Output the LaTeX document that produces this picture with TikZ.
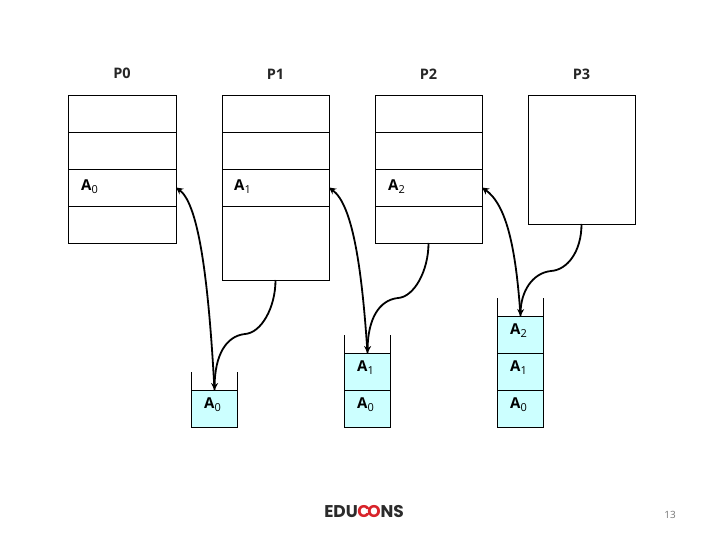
\documentclass[tikz,border=0pt]{standalone}
\usepackage{fontspec}
\setmainfont{Open Sans}
\newfontfamily\logofont{Poppins}
\definecolor{stackfill}{HTML}{CCFFFF}
\definecolor{logored}{HTML}{D8232A}
\definecolor{logodark}{HTML}{2B2B2B}
\usetikzlibrary{arrows.meta}
\tikzset{
 memcell/.style={draw=black,line width=0.8pt,fill=white,anchor=north west,inner sep=0pt,outer sep=0pt,minimum width=#1},
 stackcell/.style={draw=black,line width=0.8pt,fill=stackfill,inner sep=0pt,outer sep=0pt,minimum width=46pt,minimum height=37pt,font=\fontsize{15}{15}\selectfont},
 proclabel/.style={font=\fontsize{14.5}{15}\selectfont\bfseries,inner sep=0pt,text=black!85},
 addr/.style={font=\fontsize{15}{15}\selectfont,inner sep=0pt,anchor=base west},
 link/.style={line width=1.8pt,black},
 headed/.style={-{Stealth[length=7pt,width=7pt]}},
}
\newcommand{\Aa}[1]{{\bfseries A}\raisebox{-3pt}{\fontsize{11}{11}\selectfont #1}}
\newcommand{\Ss}[1]{\raisebox{0.3pt}[0pt][0pt]{\Aa{#1}}\kern4pt}
\begin{document}
\begin{tikzpicture}[x=1pt,y=-1pt]
\useasboundingbox (0,0) rectangle (720,540);
% process boxes
\foreach \n/\x/\w in {0/68/108,2/375/107}{
  \node[memcell=\w pt,minimum height=37pt] (p\n r1) at (\x,95) {};
  \node[memcell=\w pt,minimum height=37pt] (p\n r2) at (\x,132) {};
  \node[memcell=\w pt,minimum height=37pt] (p\n r3) at (\x,169) {};
  \node[memcell=\w pt,minimum height=37pt] (p\n r4) at (\x,206) {};
}
\node[memcell=107pt,minimum height=37pt] (p1r1) at (222,95) {};
\node[memcell=107pt,minimum height=37pt] (p1r2) at (222,132) {};
\node[memcell=107pt,minimum height=37pt] (p1r3) at (222,169) {};
\node[memcell=107pt,minimum height=74pt] (p1r4) at (222,206) {};
\node[memcell=107pt,minimum height=129pt] (p3r1) at (528,95) {};
% process titles
\node[proclabel] (t0) at (122,73.5) {P0};
\node[proclabel] (t1) at (275.5,74.5) {P1};
\node[proclabel] (t2) at (428.5,74.5) {P2};
\node[proclabel] (t3) at (581.5,74.5) {P3};
% addresses in memory
\node[addr] (a0) at (81,191) {\Aa{0}};
\node[addr] (a1) at (234,191) {\Aa{1}};
\node[addr] (a2) at (388,191) {\Aa{2}};
% stacks
\node[stackcell] (s0a) at (214.5,408.5) {\Ss{0}};
\node[stackcell] (s1a) at (367.5,408.5) {\Ss{0}};
\node[stackcell] (s1b) at (367.5,371.5) {\Ss{1}};
\node[stackcell] (s2a) at (520.5,408.5) {\Ss{0}};
\node[stackcell] (s2b) at (520.5,371.5) {\Ss{1}};
\node[stackcell] (s2c) at (520.5,334.5) {\Ss{2}};
% open stack walls
\foreach \s/\h in {s0a/18,s1b/18,s2c/18}{
  \draw[line width=0.8pt] (\s.north west) -- ++(0,-\h);
  \draw[line width=0.8pt] (\s.north east) -- ++(0,-\h);
}
% connectors
\coordinate (m0) at (245,334);
\coordinate (m1) at (398,298);
\coordinate (m2) at (551,271);
\draw[link,headed] (p1r4.south) .. controls (275.5,308) and (261,333) .. (m0) .. controls (226,336) and (215,355) .. (s0a.north);
\draw[link,headed] (s0a.north) .. controls (209,290) and (200,205) .. (p0r3.east);
\draw[link,headed] (p2r4.south) .. controls (428.5,271) and (414,297) .. (m1) .. controls (379,300) and (368,319) .. (s1b.north);
\draw[link,headed] (s1b.north) .. controls (362,270) and (353,205) .. (p1r3.east);
\draw[link,headed] (p3r1.south) .. controls (581.5,252) and (567,270) .. (m2) .. controls (532,273) and (521,292) .. (s2c.north);
\draw[link,headed] (s2c.north) .. controls (516,250) and (507,205) .. (p2r3.east);
% footer
\node[inner sep=0pt,text=logodark] (logo) at (364,511.5) {\logofont\bfseries\fontsize{17}{17}\selectfont EDU\kern-0.3pt{\color{logored}C\kern-3pt O}\kern-0.3pt NS};
\node[inner sep=0pt,text=black!55] (pg) at (670,515) {\fontsize{10}{10}\selectfont 13};
\end{tikzpicture}
\end{document}
